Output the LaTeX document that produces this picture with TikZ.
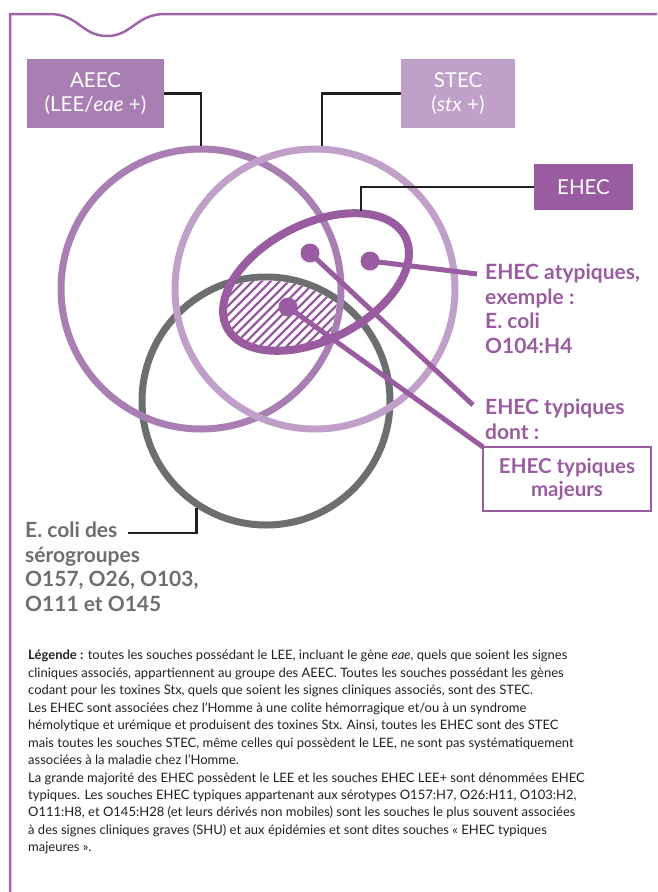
\documentclass[tikz,border=0pt]{standalone}
\usepackage{fontspec}
\setmainfont{Lato}
\usetikzlibrary{shapes.geometric}

\definecolor{framepurple}{RGB}{160,100,168}
\definecolor{aeecpurple}{RGB}{168,126,179}
\definecolor{stecpurple}{RGB}{192,160,201}
\definecolor{ehecpurple}{RGB}{154,92,160}
\definecolor{serogrey}{RGB}{109,110,112}
\definecolor{legendink}{RGB}{35,31,32}

\tikzset{
  groupbox/.style = {align=center, inner sep=0pt, text=white,
    font=\fontsize{20.5}{24.5}\selectfont},
  ring/.style = {circle, draw, line width=7pt, minimum size=280pt, inner sep=0pt},
  dot/.style = {circle, fill=ehecpurple, minimum size=19pt, inner sep=0pt},
  pointer/.style = {draw=ehecpurple, line width=5pt},
  leader/.style = {draw=legendink, line width=2.2pt},
  tag/.style = {align=left, inner sep=0pt, anchor=north west,
    font=\bfseries\fontsize{21}{24.5}\selectfont}
}

\begin{document}
\begin{tikzpicture}[x=1pt, y=-1pt]
\useasboundingbox (0,0) rectangle (657,892);
% frame with notch
\draw[framepurple, line width=2.5pt] (10,892) -- (10,14) -- (50,14)
  .. controls (78,14) and (82,36) .. (107,36)
  .. controls (132,36) and (136,14) .. (165,14) -- (657,14);

% the three groups
\node[ring, draw=serogrey, minimum size=248pt] (sero) at (266,401) {};
\node[ring, draw=aeecpurple] (aeec) at (201,289) {};
\node[ring, draw=stecpurple] (stec) at (315,289) {};

% hatched part
\begin{scope}
  \clip (sero.center) circle[radius=120.5];
  \clip (aeec.center) circle[radius=136.5];
  \clip[rotate around={27:(316,282)}] (316,282) ellipse[x radius=100, y radius=58];
  \fill[white] (200,200) rectangle (420,400);
  \foreach \k in {0,...,30}
    \draw[ehecpurple, line width=2.2pt] (100+9*\k,380) -- ++(160,-160);
\end{scope}

\node[ellipse, draw=ehecpurple, line width=8pt, minimum width=200pt,
  minimum height=116pt, inner sep=0pt, rotate=27] (ehecring) at (316,282) {};

% boxes
\node[groupbox, fill=aeecpurple, minimum width=137pt, minimum height=69pt]
  (aeecbox) at (95.5,93.5) {AEEC\\(LEE/\textit{eae} +)};
\node[groupbox, fill=stecpurple, minimum width=114pt, minimum height=69pt]
  (stecbox) at (458,93.5) {STEC\\(\textit{stx} +)};
\node[groupbox, fill=ehecpurple, minimum width=99pt, minimum height=46pt]
  (ehecbox) at (583.5,187) {EHEC};
\node[draw=ehecpurple, line width=2.5pt, fill=white, text=ehecpurple, align=center,
  font=\bfseries\fontsize{20.5}{23}\selectfont, minimum width=168pt, minimum height=64pt,
  inner sep=0pt, outer sep=0pt, anchor=north west]
  (majbox) at (483,447) {EHEC typiques\\majeurs};

% labels
\node[tag, text=ehecpurple] (atyplabel) at (485,264)
  {EHEC atypiques,\\exemple :\\E. coli\\O104:H4};
\node[tag, text=ehecpurple] (typlabel) at (485,399) {EHEC typiques\\dont :};
\node[tag, text=serogrey] (serolabel) at (25,522)
  {E. coli des\\sérogroupes\\O157, O26, O103,\\O111 et O145};

\coordinate (atypend) at (477,274);
\coordinate (typend) at (473,405);
\coordinate (ehectop) at (361,211);
\coordinate (serotick) at (128,533);

% pointers
\node[dot] (typdot) at (310,253) {};
\node[dot] (atypdot) at (370,261) {};
\node[dot] (majdot) at (288,307) {};
\draw[pointer] (atypdot.center) -- (atypend);
\draw[pointer] (typdot.center) -- (typend);
\draw[pointer] (majdot.center) -- (majbox.north west);

% leaders
\draw[leader] (aeecbox.east) -| (aeec.north);
\draw[leader] (stecbox.west) -| ([xshift=7pt]stec.north);
\draw[leader] (ehecbox.west) -| (ehectop);
\draw[leader] (serotick) -| (sero.-123);

% legend
\node[anchor=north west, align=left, inner sep=0pt, text=legendink,
  font=\fontsize{13}{17.45}\selectfont] (legend) at (28,650)
  {\textbf{Légende :} toutes les souches possédant le LEE, incluant le gène \textit{eae}, quels que soient les signes\\
  cliniques associés, appartiennent au groupe des AEEC. Toutes les souches possédant les gènes\\
  codant pour les toxines Stx, quels que soient les signes cliniques associés, sont des STEC.\\
  Les EHEC sont associées chez l’Homme à une colite hémorragique et/ou à un syndrome\\
  hémolytique et urémique et produisent des toxines Stx. Ainsi, toutes les EHEC sont des STEC\\
  mais toutes les souches STEC, même celles qui possèdent le LEE, ne sont pas systématiquement\\
  associées à la maladie chez l’Homme.\\
  La grande majorité des EHEC possèdent le LEE et les souches EHEC LEE+ sont dénommées EHEC\\
  typiques. Les souches EHEC typiques appartenant aux sérotypes O157:H7, O26:H11, O103:H2,\\
  O111:H8, et O145:H28 (et leurs dérivés non mobiles) sont les souches le plus souvent associées\\
  à des signes cliniques graves (SHU) et aux épidémies et sont dites souches «~EHEC typiques\\
  majeures~».};
\end{tikzpicture}
\end{document}
